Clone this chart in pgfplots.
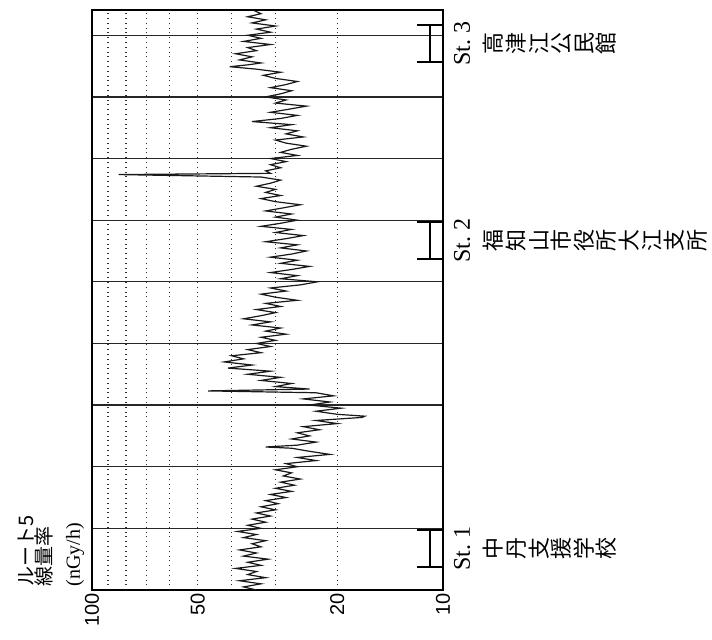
\documentclass[border=0pt]{standalone}
\usepackage{fontspec}
\setmainfont{Liberation Serif}
\newfontfamily\sansnum{Liberation Sans}
\newfontfamily\cjk{Noto Sans CJK JP}
\usepackage{pgfplots}
\usepackage{pgfplotstable}
\pgfplotsset{compat=1.18}
\pgfplotstableread{
d u
34 0.00
37 0.05
33 0.10
38 0.15
32 0.20
36 0.25
34 0.30
39 0.35
33 0.40
36 0.45
31.5 0.50
37 0.55
34 0.60
38 0.65
33 0.70
35 0.75
32 0.80
37 0.85
34 0.90
38.5 0.95
33 1.00
36 1.05
32 1.10
35 1.15
31 1.20
34 1.25
30 1.30
33 1.35
29.5 1.40
32 1.45
28 1.50
31 1.55
27 1.60
30 1.65
26.5 1.70
29 1.75
25.5 1.80
28.5 1.85
27 1.90
30 1.95
26 2.00
28 2.05
23 2.10
26 2.15
21 2.20
24 2.25
27 2.30
32 2.32
26 2.35
23 2.40
27 2.45
24 2.50
26 2.55
22.5 2.60
25 2.65
20 2.70
23 2.75
17 2.80
16.7 2.82
20 2.85
23 2.90
19.5 2.95
24 3.00
21 3.05
25 3.10
20.5 3.15
23 3.20
46.7 3.23
24 3.26
30 3.30
27 3.35
33 3.40
29 3.45
36 3.50
31 3.55
41 3.60
35 3.65
42 3.70
37 3.75
40 3.80
33 3.85
36 3.90
31 3.95
34 4.00
30 4.05
33 4.10
28 4.15
32 4.20
29 4.25
35 4.30
31 4.35
37 4.40
33 4.45
30 4.50
34 4.55
29 4.60
32 4.65
26 4.70
30 4.75
33 4.80
28 4.85
31 4.90
25.5 4.95
22.8 5.00
29 5.05
26 5.10
31 5.15
27 5.20
24 5.25
29 5.30
26 5.35
31 5.40
27 5.45
24.5 5.50
29 5.55
26 5.60
32 5.65
28 5.70
25 5.75
30 5.80
27 5.85
33 5.90
29 5.95
26 6.00
30 6.05
27 6.10
32 6.15
28.5 6.20
25.5 6.25
30 6.30
33 6.35
29 6.40
32 6.45
30 6.50
34 6.55
31 6.60
29 6.65
33 6.70
84 6.74
31 6.76
32 6.80
29 6.85
31 6.90
28 6.95
31 7.00
26 7.05
29 7.10
27 7.15
24.5 7.20
28 7.25
30 7.30
25 7.35
28 7.40
26 7.45
31 7.50
27 7.55
35 7.60
29 7.65
26 7.70
31 7.75
27.5 7.80
24.5 7.85
30 7.90
28 7.95
32 8.00
29 8.05
27 8.10
31 8.15
28 8.20
26 8.25
30 8.30
32.5 8.35
29 8.40
34 8.45
40.5 8.49
36 8.52
33 8.55
38 8.60
35 8.65
39 8.70
34 8.75
36 8.80
31 8.85
37 8.90
33 8.95
36 9.00
31 9.05
34 9.10
30 9.15
35 9.20
32 9.25
36 9.30
33 9.35
34.5 9.40
}\route
\begin{document}
\begin{tikzpicture}
\useasboundingbox (-46pt,-25pt) rectangle (310pt,295pt);
\begin{axis}[
  at={(0pt,0pt)}, anchor=south west,
  scale only axis, width=175.5pt, height=290pt,
  xmode=log, xmin=10, xmax=100, x dir=reverse,
  ymin=0, ymax=9.41,
  xtick={10,20,50,100}, xticklabels={10,20,50,100},
  minor xtick={20,30,40,50,60,70,80,90},
  xminorgrids=true, xmajorgrids=false,
  minor x grid style={black!80, dotted, line width=0.6pt},
  ytick={1,2,3,4,5,6,7,8,9}, yticklabels={},
  ymajorgrids=true,
  major y grid style={black!85, line width=0.65pt},
  major tick length=0pt, minor tick length=0pt,
  xticklabel style={rotate=90, anchor=east, inner sep=1.5pt, font=\sansnum\fontsize{10}{12}\selectfont},
  axis line style={line width=0.9pt},
  clip=false,
]
\addplot[black!90, line width=0.6pt] table[x=d, y=u] {\route};
% station brackets
\addplot[black, line width=1.2pt] coordinates {(11.86,0.373) (10,0.373)};
\addplot[black, line width=1.2pt] coordinates {(11.86,0.974) (10,0.974)};
\addplot[black, line width=1.0pt] coordinates {(10.89,0.373) (10.89,0.974)};
\addplot[black, line width=1.2pt] coordinates {(11.86,5.37) (10,5.37)};
\addplot[black, line width=1.2pt] coordinates {(11.86,5.97) (10,5.97)};
\addplot[black, line width=1.0pt] coordinates {(10.89,5.37) (10.89,5.97)};
\addplot[black, line width=1.2pt] coordinates {(11.86,8.57) (10,8.57)};
\addplot[black, line width=1.2pt] coordinates {(11.86,9.17) (10,9.17)};
\addplot[black, line width=1.0pt] coordinates {(10.89,8.57) (10.89,9.17)};
\end{axis}
% title
\node[rotate=90, anchor=west, inner sep=0pt, font=\cjk\fontsize{10}{11}\selectfont] at (-33pt,1.5pt) {ルート5};
\node[rotate=90, anchor=west, inner sep=0pt, font=\cjk\fontsize{10}{11}\selectfont] at (-24pt,1.5pt) {線量率};
\node[rotate=90, anchor=west, inner sep=0pt, font=\fontsize{10}{11}\selectfont] at (-8.5pt,1.5pt) {(nGy/h)};
% station labels
\node[rotate=90, inner sep=0pt, font=\fontsize{12}{14}\selectfont] at (185pt,20.75pt) {St.\ 1};
\node[rotate=90, inner sep=0pt, font=\fontsize{12}{14}\selectfont] at (185pt,174.75pt) {St.\ 2};
\node[rotate=90, inner sep=0pt, font=\fontsize{12}{14}\selectfont] at (185pt,273.25pt) {St.\ 3};
\node[rotate=90, anchor=north, inner sep=0pt, align=center, font=\cjk\fontsize{11}{11.3}\selectfont] at (195.5pt,20.75pt) {中\\丹\\支\\援\\学\\校};
\node[rotate=90, anchor=north, inner sep=0pt, align=center, font=\cjk\fontsize{11}{11.3}\selectfont] at (195.5pt,174.75pt) {福\\知\\山\\市\\役\\所\\大\\江\\支\\所};
\node[rotate=90, anchor=north, inner sep=0pt, align=center, font=\cjk\fontsize{11}{11.3}\selectfont] at (195.5pt,273.25pt) {高\\津\\江\\公\\民\\館};
\end{tikzpicture}
\end{document}
